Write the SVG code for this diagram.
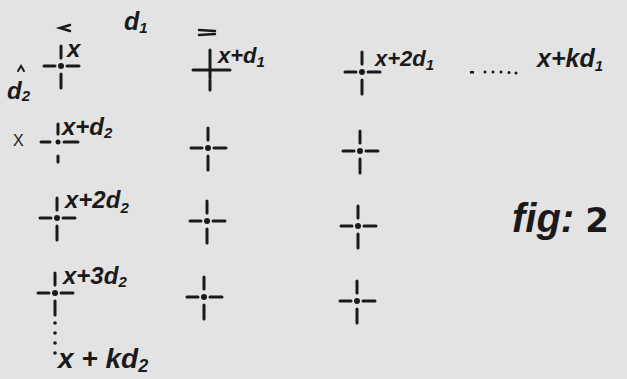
<svg xmlns="http://www.w3.org/2000/svg" width="627" height="379" viewBox="0 0 627 379">
<defs>
<style>
.bg{fill:#e3e3e3}
.ln{stroke:#1a1a1a;stroke-width:3;stroke-linecap:round;fill:none}
.dt{fill:#1a1a1a}
.lb{font-family:"Liberation Sans",Arial,sans-serif;font-style:italic;font-weight:bold;font-size:24px;fill:#1a1a1a}
.sb{font-size:15px}
.fig{font-family:"Liberation Sans",Arial,sans-serif;font-style:italic;font-weight:bold;font-size:40px;fill:#1a1a1a}
</style>
<g id="cross">
<path class="ln" d="M0,-20V-8M0,8V22M-17,0H-6M6,0H18"/>
<circle class="dt" cx="0" cy="0" r="3"/>
</g>
</defs>
<rect class="bg" width="627" height="379"/>

<g id="dims">
<path class="ln" d="M70,25 L60,28 L70,31" style="stroke-width:2.5"/>
<text class="lb" x="124" y="30" style="font-size:25px">d<tspan class="sb" dy="3">1</tspan></text>
<path class="ln" d="M199,30 L215,31 M199,35 L215,34" style="stroke-width:2.5"/>
<path class="ln" d="M18,71 L21,66 L24,71" style="stroke-width:2"/>
<text class="lb" x="7" y="99" style="font-size:24px">d<tspan class="sb" dy="2">2</tspan></text>
<text x="13" y="146" style="font-family:'Liberation Sans',Arial,sans-serif;font-size:16px;fill:#1a1a1a">X</text>
</g>

<g id="row1">
<g id="n11"><use href="#cross" x="61" y="66"/><text class="lb" x="67" y="57">x</text></g>
<g id="n12"><path class="ln" d="M210,50V78M210,80V90M193,70H230"/><text class="lb" x="218" y="63" style="font-size:22px">x+d<tspan class="sb" dy="4">1</tspan></text></g>
<g id="n13"><use href="#cross" x="362" y="72"/><text class="lb" x="375" y="66" style="font-size:22px">x+2d<tspan class="sb" dy="4">1</tspan></text></g>
<g id="dotsH" class="dt"><rect x="470" y="71" width="4" height="2.5"/><circle cx="485" cy="72" r="1.5"/><circle cx="493" cy="72" r="1.5"/><circle cx="501" cy="72" r="1.5"/><circle cx="509" cy="72.5" r="1.5"/><circle cx="516" cy="73" r="1.5"/></g>
<g id="n1k"><text class="lb" x="537" y="67" style="font-size:25px">x+kd<tspan class="sb" dy="4">1</tspan></text></g>
</g>

<g id="row2">
<g id="n21"><path class="ln" d="M58,124V134M58,156V162M41,142H50M64,142H78"/><circle class="dt" cx="58" cy="142" r="2.5"/><text class="lb" x="62" y="135">x+d<tspan class="sb" dy="3">2</tspan></text></g>
<g id="n22"><use href="#cross" x="208" y="148"/></g>
<g id="n23"><use href="#cross" x="360" y="151"/></g>
</g>

<g id="row3">
<g id="n31"><use href="#cross" x="57" y="218"/><text class="lb" x="65" y="208">x+2d<tspan class="sb" dy="5">2</tspan></text></g>
<g id="n32"><use href="#cross" x="207" y="221"/></g>
<g id="n33"><use href="#cross" x="358" y="226"/></g>
</g>

<g id="row4">
<g id="n41"><use href="#cross" x="55" y="293"/><text class="lb" x="63" y="284">x+3d<tspan class="sb" dy="3">2</tspan></text></g>
<g id="n42"><use href="#cross" x="204" y="297"/></g>
<g id="n43"><use href="#cross" x="357" y="301"/></g>
</g>

<g id="dotsV" class="dt"><circle cx="55" cy="323" r="1.8"/><circle cx="55" cy="333" r="1.8"/><circle cx="55" cy="343" r="1.8"/><circle cx="55" cy="353" r="1.8"/></g>
<g id="nk1"><text class="lb" x="58" y="368" style="font-size:28px">x + kd<tspan class="sb" style="font-size:18px" dy="4">2</tspan></text></g>

<g id="fig"><text class="fig" x="512" y="232">fig: <tspan style="font-weight:900;font-style:normal;font-family:'DejaVu Sans',sans-serif;font-size:34px">2</tspan></text></g>
</svg>
